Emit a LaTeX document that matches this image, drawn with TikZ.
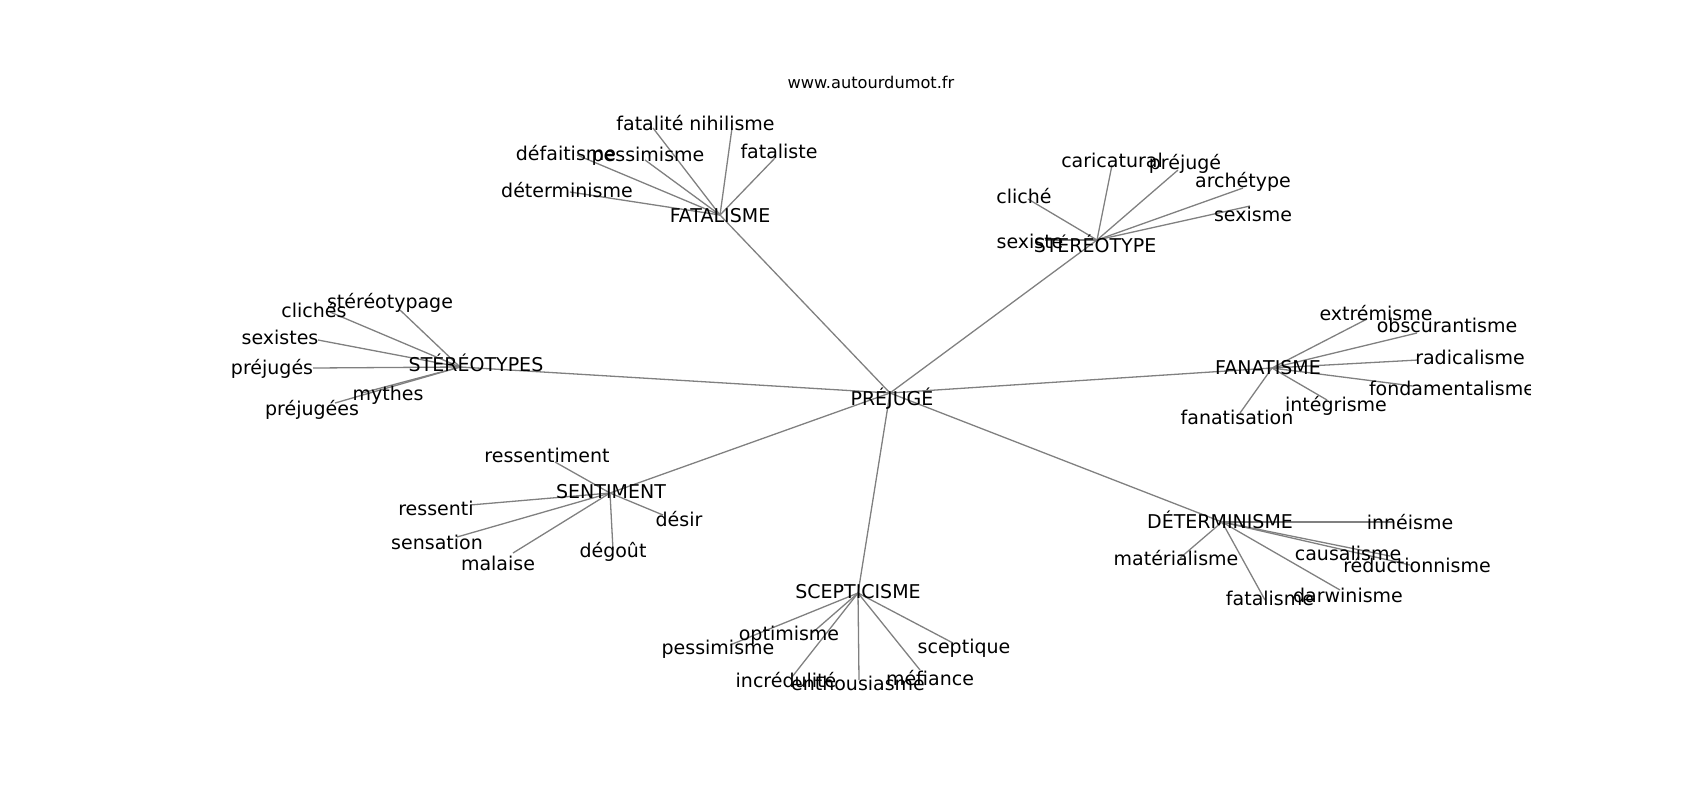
\documentclass[tikz,border=0pt]{standalone}
\usepackage{fontspec}
\setmainfont{DejaVu Sans}
\tikzset{
  word/.style={inner sep=0pt, font=\fontsize{9.5}{11}\selectfont},
  link/.style={color={rgb, 255:red, 128; green, 128; blue, 128}, line width=0.65pt}
}
\begin{document}
\begin{tikzpicture}[x=0.5pt,y=0.5pt,yscale=-1,xscale=1]
	\useasboundingbox (0,0) rectangle (1700,800);
	
	% Title
	\node (site) at (871,82) [inner sep=0pt, font=\fontsize{8.1}{10}\selectfont] {www.autourdumot.fr};
	
	\begin{scope}
	\clip (212.5,96) rectangle (1530,712);
	
	% Points of the graph
	\coordinate (prejuge) at (890,393);
	\coordinate (fatalisme) at (720,215);
	\coordinate (stereotype) at (1097,240);
	\coordinate (stereotypes) at (460,367);
	\coordinate (fanatisme) at (1272,368);
	\coordinate (sentiment) at (610,493);
	\coordinate (determinisme) at (1222,522);
	\coordinate (scepticisme) at (858,593);
	
	\coordinate (fatalite) at (653,128);
	\coordinate (nihilisme) at (732,128);
	\coordinate (defaitisme) at (577,155);
	\coordinate (pessimismeA) at (645,160);
	\coordinate (fataliste) at (775,158);
	\coordinate (determinismeA) at (570,192);
	
	\coordinate (caricatural) at (1112,165);
	\coordinate (prejugeA) at (1178,170);
	\coordinate (archetype) at (1243,188);
	\coordinate (cliche) at (1028,199);
	\coordinate (sexisme) at (1250,206);
	\coordinate (sexiste) at (1045,240);
	
	\coordinate (cliches) at (330,312);
	\coordinate (stereotypage) at (400,310);
	\coordinate (sexistes) at (318,340);
	\coordinate (prejuges) at (313,368);
	\coordinate (mythes) at (362,393);
	\coordinate (prejugees) at (335,403);
	
	\coordinate (extremisme) at (1367,319);
	\coordinate (obscurantisme) at (1417,333);
	\coordinate (radicalisme) at (1418,360);
	\coordinate (fondamentalisme) at (1413,386);
	\coordinate (integrisme) at (1327,400);
	\coordinate (fanatisation) at (1240,413);
	
	\coordinate (ressentiment) at (555,462);
	\coordinate (ressenti) at (470,505);
	\coordinate (desir) at (663,515);
	\coordinate (sensation) at (457,537);
	\coordinate (degout) at (613,550);
	\coordinate (malaise) at (513,553);
	
	\coordinate (inneisme) at (1393,522);
	\coordinate (materialisme) at (1180,558);
	\coordinate (causalisme) at (1390,556);
	\coordinate (reductionnisme) at (1410,565);
	\coordinate (darwinisme) at (1340,590);
	\coordinate (fatalismeB) at (1265,600);
	
	\coordinate (optimisme) at (812,633);
	\coordinate (pessimismeB) at (730,645);
	\coordinate (sceptique) at (953,643);
	\coordinate (incredulite) at (792,677);
	\coordinate (enthousiasme) at (859,680);
	\coordinate (mefiance) at (920,670);
	
	%Straight Lines
	\draw [link] (prejuge) -- (fatalisme);
	\draw [link] (prejuge) -- (stereotype);
	\draw [link] (prejuge) -- (stereotypes);
	\draw [link] (prejuge) -- (fanatisme);
	\draw [link] (prejuge) -- (sentiment);
	\draw [link] (prejuge) -- (determinisme);
	\draw [link] (prejuge) -- (scepticisme);
	%Straight Lines
	\draw [link] (fatalisme) -- (fatalite);
	\draw [link] (fatalisme) -- (nihilisme);
	\draw [link] (fatalisme) -- (defaitisme);
	\draw [link] (fatalisme) -- (pessimismeA);
	\draw [link] (fatalisme) -- (fataliste);
	\draw [link] (fatalisme) -- (determinismeA);
	%Straight Lines
	\draw [link] (stereotype) -- (caricatural);
	\draw [link] (stereotype) -- (prejugeA);
	\draw [link] (stereotype) -- (archetype);
	\draw [link] (stereotype) -- (cliche);
	\draw [link] (stereotype) -- (sexisme);
	\draw [link] (stereotype) -- (sexiste);
	%Straight Lines
	\draw [link] (stereotypes) -- (cliches);
	\draw [link] (stereotypes) -- (stereotypage);
	\draw [link] (stereotypes) -- (sexistes);
	\draw [link] (stereotypes) -- (prejuges);
	\draw [link] (stereotypes) -- (mythes);
	\draw [link] (stereotypes) -- (prejugees);
	%Straight Lines
	\draw [link] (fanatisme) -- (extremisme);
	\draw [link] (fanatisme) -- (obscurantisme);
	\draw [link] (fanatisme) -- (radicalisme);
	\draw [link] (fanatisme) -- (fondamentalisme);
	\draw [link] (fanatisme) -- (integrisme);
	\draw [link] (fanatisme) -- (fanatisation);
	%Straight Lines
	\draw [link] (sentiment) -- (ressentiment);
	\draw [link] (sentiment) -- (ressenti);
	\draw [link] (sentiment) -- (desir);
	\draw [link] (sentiment) -- (sensation);
	\draw [link] (sentiment) -- (degout);
	\draw [link] (sentiment) -- (malaise);
	%Straight Lines
	\draw [link] (determinisme) -- (inneisme);
	\draw [link] (determinisme) -- (materialisme);
	\draw [link] (determinisme) -- (causalisme);
	\draw [link] (determinisme) -- (reductionnisme);
	\draw [link] (determinisme) -- (darwinisme);
	\draw [link] (determinisme) -- (fatalismeB);
	%Straight Lines
	\draw [link] (scepticisme) -- (optimisme);
	\draw [link] (scepticisme) -- (pessimismeB);
	\draw [link] (scepticisme) -- (sceptique);
	\draw [link] (scepticisme) -- (incredulite);
	\draw [link] (scepticisme) -- (enthousiasme);
	\draw [link] (scepticisme) -- (mefiance);
	
	% Text Node
	\node [word] (prejuge-t) at (892,399) {PRÉJUGÉ};
	\node [word] (fatalisme-t) at (720,216) {FATALISME};
	\node [word] (stereotype-t) at (1095,244) {STÉRÉOTYPE};
	\node [word] (stereotypes-t) at (476,363) {STÉRÉOTYPES};
	\node [word] (fanatisme-t) at (1268,368) {FANATISME};
	\node [word] (sentiment-t) at (611,492) {SENTIMENT};
	\node [word] (determinisme-t) at (1220,520) {DÉTERMINISME};
	\node [word] (scepticisme-t) at (858,592) {SCEPTICISME};
	% Text Node
	\node [word] (fatalite-t) at (650,123) {fatalité};
	\node [word] (nihilisme-t) at (732,123) {nihilisme};
	\node [word] (defaitisme-t) at (566,153) {défaitisme};
	\node [word] (pessimismeA-t) at (648,156) {pessimisme};
	\node [word] (fataliste-t) at (779,151) {fataliste};
	\node [word] (determinismeA-t) at (567,190) {déterminisme};
	% Text Node
	\node [word] (caricatural-t) at (1112,160) {caricatural};
	\node [word] (prejugeA-t) at (1185,164) {préjugé};
	\node [word] (archetype-t) at (1243,182) {archétype};
	\node [word] (cliche-t) at (1024,196) {cliché};
	\node [word] (sexisme-t) at (1253,214) {sexisme};
	\node [word] (sexiste-t) at (1030,241) {sexiste};
	% Text Node
	\node [word] (cliches-t) at (314,310) {clichés};
	\node [word] (stereotypage-t) at (390,303) {stéréotypage};
	\node [word] (sexistes-t) at (280,337) {sexistes};
	\node [word] (prejuges-t) at (272,369) {préjugés};
	\node [word] (mythes-t) at (388,395) {mythes};
	\node [word] (prejugees-t) at (312,410) {préjugées};
	% Text Node
	\node [word] (extremisme-t) at (1376,313) {extrémisme};
	\node [word] (obscurantisme-t) at (1447,325) {obscurantisme};
	\node [word] (radicalisme-t) at (1470,357) {radicalisme};
	\node [word] (fondamentalisme-t) at (1452,388) {fondamentalisme};
	\node [word] (integrisme-t) at (1336,406) {intégrisme};
	\node [word] (fanatisation-t) at (1237,417) {fanatisation};
	% Text Node
	\node [word] (ressentiment-t) at (547,455) {ressentiment};
	\node [word] (ressenti-t) at (436,508) {ressenti};
	\node [word] (desir-t) at (679,519) {désir};
	\node [word] (sensation-t) at (437,542) {sensation};
	\node [word] (degout-t) at (613,552) {dégoût};
	\node [word] (malaise-t) at (498,563) {malaise};
	% Text Node
	\node [word] (inneisme-t) at (1410,522) {innéisme};
	\node [word] (materialisme-t) at (1176,558) {matérialisme};
	\node [word] (causalisme-t) at (1348,553) {causalisme};
	\node [word] (reductionnisme-t) at (1417,565) {réductionnisme};
	\node [word] (darwinisme-t) at (1348,595) {darwinisme};
	\node [word] (fatalismeB-t) at (1270,598) {fatalisme};
	% Text Node
	\node [word] (optimisme-t) at (789,635) {optimisme};
	\node [word] (pessimismeB-t) at (718,649) {pessimisme};
	\node [word] (sceptique-t) at (964,648) {sceptique};
	\node [word] (incredulite-t) at (786,680) {incrédulité};
	\node [word] (enthousiasme-t) at (858,683) {enthousiasme};
	\node [word] (mefiance-t) at (930,678) {méfiance};
	\end{scope}
	
\end{tikzpicture}
\end{document}
